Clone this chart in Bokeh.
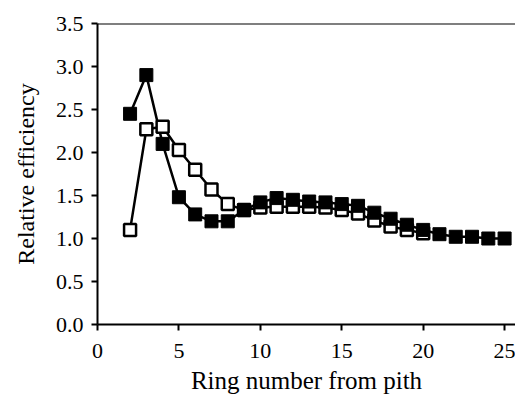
from bokeh.plotting import figure
from bokeh.models import Range1d, Span, FixedTicker, CustomJSTickFormatter
from bokeh.embed import file_html
from bokeh.resources import INLINE

rings_filled = [2, 3, 4, 5, 6, 7, 8, 9, 10, 11, 12, 13, 14, 15, 16, 17, 18, 19, 20, 21, 22, 23, 24, 25]
eff_filled = [2.45, 2.9, 2.1, 1.48, 1.28, 1.2, 1.2, 1.33, 1.42, 1.47, 1.45, 1.43, 1.42, 1.4,
              1.38, 1.3, 1.23, 1.16, 1.1, 1.05, 1.02, 1.02, 1.0, 1.0]
rings_open = [2, 3, 4, 5, 6, 7, 8, 9, 10, 11, 12, 13, 14, 15, 16, 17, 18, 19, 20]
eff_open = [1.1, 2.27, 2.3, 2.03, 1.8, 1.57, 1.4, 1.33, 1.36, 1.37, 1.37, 1.37, 1.36, 1.33,
            1.29, 1.21, 1.14, 1.1, 1.06]
x_ticks = [0, 5, 10, 15, 20, 25]
y_ticks = [0.0, 0.5, 1.0, 1.5, 2.0, 2.5, 3.0, 3.5]

FONT = "Liberation Serif"

p = figure(width=515, height=396, output_backend="svg", toolbar_location=None,
           x_range=Range1d(0, 25.67), y_range=Range1d(0, 3.5),
           min_border_left=97, min_border_top=23, min_border_bottom=67, min_border_right=0)
p.outline_line_color = None
p.grid.grid_line_color = None
p.background_fill_color = "white"

p.line(rings_open, eff_open, line_color="black", line_width=2.5)
p.line(rings_filled, eff_filled, line_color="black", line_width=2.5)
p.scatter(rings_open, eff_open, marker="square", size=12, fill_color="white",
          line_color="black", line_width=2.5)
p.scatter(rings_filled, eff_filled, marker="square", size=13, fill_color="black",
          line_color="black", line_width=1)

p.add_layout(Span(location=3.5, dimension="width", line_color="black", line_width=2))

p.xaxis.ticker = FixedTicker(ticks=x_ticks)
p.yaxis.ticker = FixedTicker(ticks=y_ticks)
p.yaxis.formatter = CustomJSTickFormatter(code="return tick.toFixed(1);")

for ax in (p.xaxis, p.yaxis):
    ax.axis_line_width = 2
    ax.axis_line_color = "black"
    ax.major_tick_line_width = 2
    ax.major_tick_line_color = "black"
    ax.major_tick_out = 6
    ax.major_tick_in = 0
    ax.minor_tick_line_color = None
    ax.major_label_text_font = FONT
    ax.major_label_text_font_size = "22px"
    ax.major_label_text_color = "black"
    ax.axis_label_text_font = FONT
    ax.axis_label_text_font_style = "normal"
    ax.axis_label_text_color = "black"

p.xaxis.axis_label = "Ring number from pith"
p.yaxis.axis_label = "Relative efficiency"
p.xaxis.axis_label_text_font_size = "25px"
p.yaxis.axis_label_text_font_size = "24px"
p.xaxis.major_label_standoff = 13
p.yaxis.major_label_standoff = 8
p.xaxis.axis_label_standoff = 6
p.yaxis.axis_label_standoff = 14

open("out.html", "w").write(file_html(p, INLINE))
